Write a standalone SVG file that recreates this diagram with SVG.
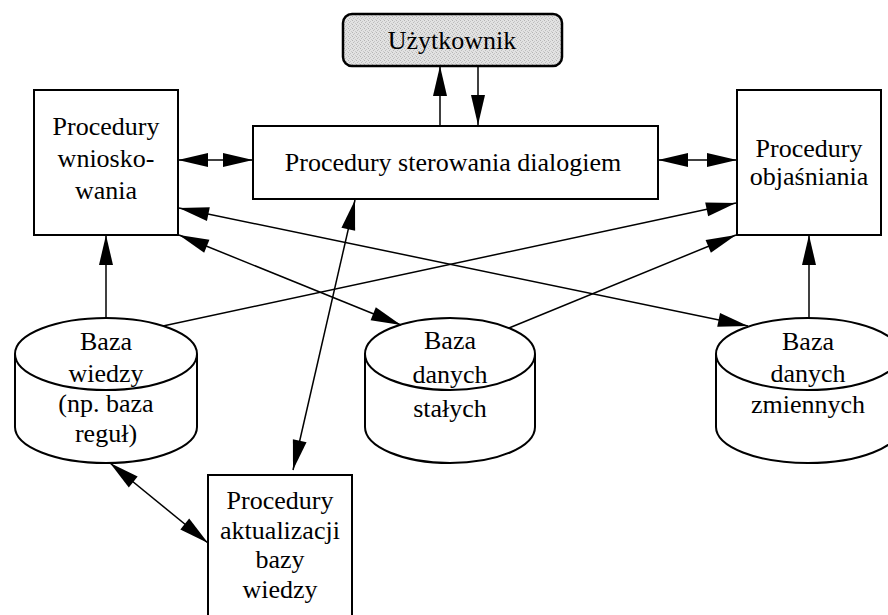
<svg xmlns="http://www.w3.org/2000/svg" width="888" height="615" viewBox="0 0 888 615">
  <style>
    .box { fill: #ffffff; stroke: #000000; stroke-width: 2; }
    .db { fill: #ffffff; stroke: #000000; stroke-width: 2; }
    .rim { fill: none; stroke: #000000; stroke-width: 2; }
    .lbl { font-family: "Liberation Serif", "Times New Roman", serif; font-size: 26px; fill: #000000; text-anchor: middle; }
    .link { fill: none; stroke: #000000; stroke-width: 1.5; }
    .one { marker-end: url(#head); }
    .two { marker-start: url(#head); marker-end: url(#head); }
  </style>
  <defs>
    <marker id="head" markerUnits="userSpaceOnUse" markerWidth="30" markerHeight="14" refX="30" refY="7" orient="auto-start-reverse" overflow="visible">
      <path d="M0,0 L30,7 L0,14 Z" fill="#000000"/>
    </marker>
    <pattern id="grain" width="4" height="4" patternUnits="userSpaceOnUse">
      <rect width="4" height="4" fill="#e2e2e2"/>
      <rect x="0" y="0" width="1" height="1" fill="#b4b4b4"/>
      <rect x="2" y="1" width="1" height="1" fill="#c4c4c4"/>
      <rect x="1" y="2" width="1" height="1" fill="#bcbcbc"/>
      <rect x="3" y="3" width="1" height="1" fill="#c8c8c8"/>
    </pattern>
  </defs>

  <rect width="888" height="615" fill="#ffffff"/>

  <!-- nodes -->
  <g id="uzytkownik">
    <rect x="343" y="14" width="219" height="52" rx="9" fill="url(#grain)" stroke="#000000" stroke-width="2.5"/>
    <text class="lbl" x="452" y="49">Użytkownik</text>
  </g>

  <g id="sterowanie-dialogiem">
    <rect class="box" x="253" y="126" width="405" height="73"/>
    <text class="lbl" x="453" y="171">Procedury sterowania dialogiem</text>
  </g>

  <g id="wnioskowanie">
    <rect class="box" x="34" y="90" width="144" height="145"/>
    <text class="lbl" x="106" y="135">Procedury</text>
    <text class="lbl" x="106" y="167">wniosko-</text>
    <text class="lbl" x="106" y="199">wania</text>
  </g>

  <g id="objasnianie">
    <rect class="box" x="737" y="90" width="144" height="145"/>
    <text class="lbl" x="809" y="157">Procedury</text>
    <text class="lbl" x="809" y="185">objaśniania</text>
  </g>

  <g id="baza-wiedzy">
    <path class="db" d="M15,354 A91,36 0 0 1 197,354 L197,427 A91,36 0 0 1 15,427 Z"/>
    <path class="rim" d="M15,354 A91,36 0 0 0 197,354"/>
    <text class="lbl" x="106" y="350">Baza</text>
    <text class="lbl" x="106" y="382">wiedzy</text>
    <text class="lbl" x="106" y="412">(np. baza</text>
    <text class="lbl" x="106" y="442">reguł)</text>
  </g>

  <g id="baza-danych-stalych">
    <path class="db" d="M365,354 A85,36 0 0 1 535,354 L535,427 A85,36 0 0 1 365,427 Z"/>
    <path class="rim" d="M365,354 A85,36 0 0 0 535,354"/>
    <text class="lbl" x="450" y="349">Baza</text>
    <text class="lbl" x="450" y="383">danych</text>
    <text class="lbl" x="450" y="417">stałych</text>
  </g>

  <g id="baza-danych-zmiennych">
    <path class="db" d="M716,354 A92,36 0 0 1 900,354 L900,427 A92,36 0 0 1 716,427 Z"/>
    <path class="rim" d="M716,354 A92,36 0 0 0 900,354"/>
    <text class="lbl" x="808" y="350">Baza</text>
    <text class="lbl" x="808" y="382">danych</text>
    <text class="lbl" x="808" y="413">zmiennych</text>
  </g>

  <g id="aktualizacja">
    <rect class="box" x="208" y="475" width="144" height="150"/>
    <text class="lbl" x="280" y="509">Procedury</text>
    <text class="lbl" x="280" y="539">aktualizacji</text>
    <text class="lbl" x="280" y="568">bazy</text>
    <text class="lbl" x="280" y="598">wiedzy</text>
  </g>

  <!-- connectors -->
  <g id="connectors">
    <line class="link one" x1="440" y1="126" x2="440" y2="66"/>
    <line class="link one" x1="478" y1="66" x2="478" y2="125"/>
    <line class="link two" x1="178" y1="160" x2="253" y2="160"/>
    <line class="link two" x1="658" y1="160" x2="737" y2="160"/>
    <line class="link one" x1="106" y1="318" x2="106" y2="235"/>
    <line class="link one" x1="809" y1="318" x2="809" y2="235"/>
    <line class="link two" x1="179" y1="208" x2="748" y2="326"/>
    <line class="link two" x1="179" y1="235" x2="401" y2="325"/>
    <line class="link one" x1="163" y1="326" x2="736" y2="203"/>
    <line class="link one" x1="509" y1="328" x2="736" y2="235"/>
    <line class="link two" x1="355" y1="200" x2="293" y2="470"/>
    <line class="link two" x1="110" y1="463" x2="208" y2="543"/>
  </g>
</svg>
